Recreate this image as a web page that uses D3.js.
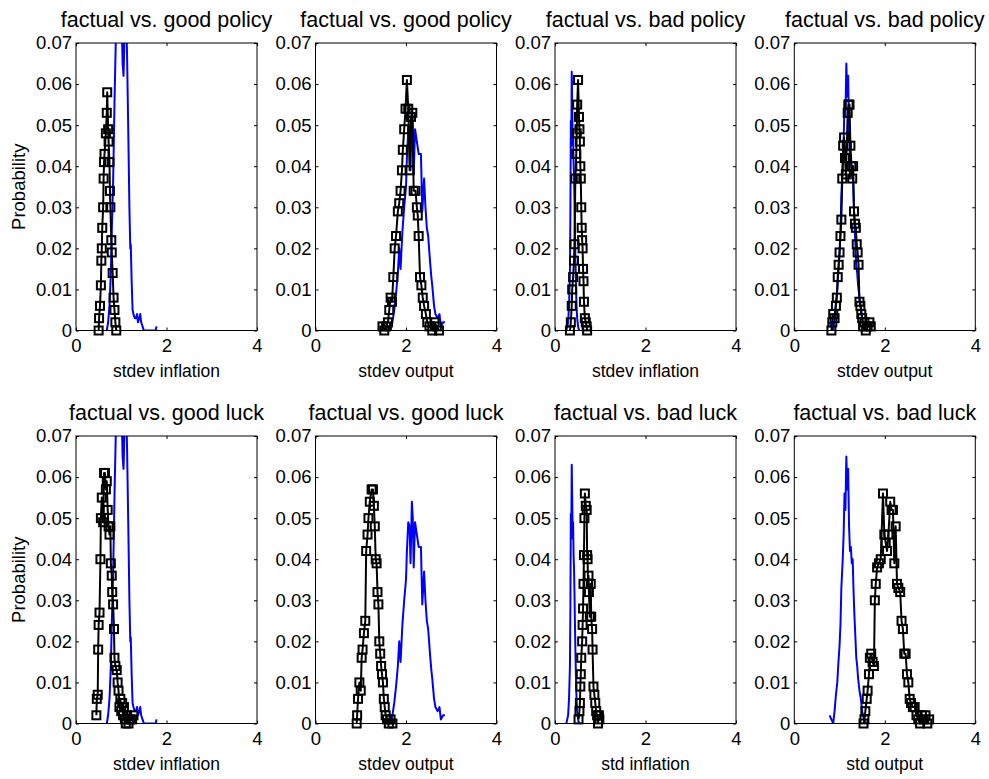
<!DOCTYPE html>
<html><head><meta charset="utf-8">
<script src="https://cdn.jsdelivr.net/npm/d3@7"></script>
<style>
html,body{margin:0;padding:0;background:#fff;}
svg{display:block;font-family:"Liberation Sans",Arial,Helvetica,sans-serif;}
</style></head><body>
<svg id="chart" width="989" height="779"></svg>
<script>
// ---------- tick values ----------
const xTicks = [0, 2, 4];
const yTicks = [0, 0.01, 0.02, 0.03, 0.04, 0.05, 0.06, 0.07];

// ---------- panel texts ----------
const panelTitles = ["factual vs. good policy", "factual vs. good policy", "factual vs. bad policy", "factual vs. bad policy",
                     "factual vs. good luck", "factual vs. good luck", "factual vs. bad luck", "factual vs. bad luck"];
const panelXLabels = ["stdev inflation", "stdev output", "stdev inflation", "stdev output",
                      "stdev inflation", "stdev output", "std inflation", "std output"];
const yLabel = "Probability";

// ---------- factual distributions (blue) [x, probability] ----------
const factualInflGood = [[0.68,0.000],[0.71,0.002],[0.74,0.006],[0.77,0.014],[0.79,0.024],[0.82,0.036],[0.85,0.055],[0.88,0.071],[0.91,0.082],[0.95,0.086],[0.99,0.080],[1.02,0.070],[1.03,0.065],[1.05,0.062],[1.06,0.066],[1.08,0.078],[1.11,0.077],[1.13,0.066],[1.16,0.045],[1.18,0.030],[1.20,0.020],[1.21,0.021],[1.23,0.012],[1.25,0.005],[1.27,0.004],[1.30,0.003],[1.33,0.003],[1.35,0.004],[1.37,0.002],[1.40,0.003],[1.42,0.004],[1.44,0.002],[1.47,0.001],[1.50,0.000],[1.56,0.000],[1.63,0.000],[1.70,0.000],[1.76,0.000],[1.78,0.001]];
const factualOutGood = [[1.66,0.000],[1.70,0.002],[1.74,0.005],[1.78,0.009],[1.82,0.014],[1.85,0.020],[1.88,0.015],[1.92,0.024],[1.96,0.030],[2.00,0.035],[2.02,0.042],[2.05,0.049],[2.08,0.048],[2.10,0.039],[2.13,0.054],[2.15,0.050],[2.17,0.038],[2.20,0.049],[2.24,0.046],[2.28,0.043],[2.33,0.043],[2.36,0.029],[2.40,0.037],[2.43,0.030],[2.46,0.025],[2.49,0.023],[2.53,0.017],[2.56,0.013],[2.58,0.011],[2.62,0.006],[2.65,0.004],[2.70,0.003],[2.74,0.004],[2.77,0.001],[2.82,0.002],[2.86,0.002]];
const factualInflBad = [[0.25,0.000],[0.27,0.001],[0.29,0.002],[0.31,0.006],[0.33,0.014],[0.34,0.028],[0.35,0.051],[0.36,0.045],[0.37,0.063],[0.38,0.055],[0.39,0.047],[0.40,0.049],[0.41,0.041],[0.42,0.038],[0.43,0.032],[0.44,0.025],[0.45,0.018],[0.46,0.013],[0.47,0.008],[0.48,0.005],[0.49,0.003],[0.51,0.001],[0.53,0.000]];
const factualOutBad = [[0.78,0.002],[0.82,0.001],[0.86,0.000],[0.89,0.003],[0.92,0.007],[0.95,0.010],[0.97,0.014],[1.00,0.019],[1.02,0.024],[1.04,0.033],[1.07,0.040],[1.09,0.046],[1.11,0.056],[1.13,0.052],[1.15,0.065],[1.17,0.057],[1.19,0.062],[1.21,0.048],[1.23,0.042],[1.25,0.043],[1.27,0.039],[1.29,0.040],[1.31,0.032],[1.33,0.026],[1.35,0.021],[1.37,0.016],[1.39,0.014],[1.41,0.011],[1.44,0.008],[1.47,0.006],[1.50,0.003],[1.54,0.001],[1.58,0.000],[1.62,0.000]];

// ---------- counterfactual distributions (black, squares) ----------
const cfGoodPolicyInfl = [[0.50,0.000],[0.51,0.003],[0.53,0.006],[0.55,0.011],[0.56,0.017],[0.57,0.020],[0.58,0.025],[0.60,0.030],[0.61,0.037],[0.62,0.041],[0.63,0.043],[0.66,0.048],[0.68,0.053],[0.69,0.058],[0.71,0.049],[0.72,0.046],[0.74,0.041],[0.75,0.034],[0.76,0.030],[0.78,0.022],[0.79,0.019],[0.81,0.014],[0.83,0.008],[0.85,0.005],[0.87,0.002],[0.89,0.000]];
const cfGoodPolicyOut = [[1.48,0.001],[1.52,0.000],[1.56,0.001],[1.60,0.002],[1.63,0.005],[1.66,0.008],[1.69,0.007],[1.72,0.013],[1.75,0.020],[1.78,0.023],[1.82,0.029],[1.85,0.031],[1.88,0.034],[1.91,0.039],[1.93,0.044],[1.96,0.049],[1.99,0.054],[2.02,0.061],[2.05,0.054],[2.08,0.039],[2.11,0.052],[2.14,0.053],[2.17,0.034],[2.21,0.034],[2.24,0.030],[2.26,0.028],[2.28,0.023],[2.31,0.013],[2.34,0.011],[2.37,0.008],[2.40,0.006],[2.44,0.004],[2.47,0.002],[2.52,0.001],[2.58,0.000],[2.63,0.002],[2.68,0.001],[2.73,0.000]];
const cfBadPolicyInfl = [[0.33,0.000],[0.35,0.002],[0.37,0.006],[0.38,0.010],[0.40,0.013],[0.42,0.017],[0.43,0.021],[0.45,0.037],[0.47,0.043],[0.48,0.048],[0.49,0.055],[0.51,0.061],[0.53,0.052],[0.54,0.049],[0.55,0.046],[0.56,0.040],[0.57,0.037],[0.58,0.030],[0.59,0.025],[0.60,0.022],[0.61,0.020],[0.62,0.015],[0.63,0.012],[0.64,0.007],[0.66,0.003],[0.68,0.002],[0.70,0.001],[0.71,0.000]];
const cfBadPolicyOut = [[0.82,0.000],[0.84,0.002],[0.86,0.004],[0.89,0.003],[0.92,0.006],[0.94,0.008],[0.96,0.013],[0.98,0.016],[1.00,0.019],[1.02,0.023],[1.04,0.027],[1.06,0.037],[1.08,0.045],[1.10,0.047],[1.12,0.042],[1.14,0.038],[1.16,0.045],[1.18,0.053],[1.20,0.055],[1.22,0.055],[1.24,0.045],[1.26,0.040],[1.28,0.037],[1.30,0.040],[1.32,0.029],[1.34,0.026],[1.36,0.025],[1.38,0.021],[1.40,0.019],[1.42,0.016],[1.44,0.007],[1.46,0.006],[1.48,0.004],[1.50,0.003],[1.52,0.001],[1.55,0.002],[1.58,0.000],[1.62,0.001],[1.66,0.002],[1.69,0.001]];
const cfGoodLuckInfl = [[0.45,0.002],[0.46,0.006],[0.48,0.007],[0.49,0.018],[0.50,0.024],[0.52,0.027],[0.54,0.040],[0.55,0.050],[0.57,0.055],[0.60,0.049],[0.62,0.061],[0.64,0.061],[0.66,0.057],[0.68,0.059],[0.70,0.052],[0.72,0.048],[0.74,0.046],[0.76,0.048],[0.77,0.039],[0.79,0.036],[0.80,0.032],[0.82,0.029],[0.84,0.023],[0.85,0.016],[0.87,0.014],[0.90,0.013],[0.92,0.010],[0.94,0.008],[0.96,0.004],[0.98,0.006],[1.00,0.003],[1.02,0.005],[1.04,0.002],[1.06,0.004],[1.08,0.001],[1.10,0.000],[1.13,0.002],[1.16,0.000],[1.20,0.001],[1.24,0.001],[1.27,0.002]];
const cfGoodLuckOut = [[0.91,0.000],[0.92,0.002],[0.94,0.006],[0.97,0.010],[1.00,0.008],[1.02,0.016],[1.04,0.018],[1.07,0.022],[1.10,0.025],[1.12,0.042],[1.15,0.046],[1.17,0.050],[1.20,0.054],[1.24,0.057],[1.27,0.057],[1.29,0.053],[1.31,0.048],[1.33,0.040],[1.35,0.039],[1.37,0.032],[1.39,0.029],[1.41,0.020],[1.43,0.017],[1.45,0.014],[1.47,0.012],[1.49,0.010],[1.51,0.006],[1.53,0.004],[1.55,0.002],[1.58,0.001],[1.62,0.000],[1.66,0.001],[1.70,0.000]];
const cfBadLuckInfl = [[0.52,0.001],[0.54,0.003],[0.55,0.005],[0.56,0.009],[0.57,0.012],[0.58,0.016],[0.60,0.020],[0.61,0.024],[0.62,0.028],[0.63,0.034],[0.64,0.041],[0.65,0.050],[0.66,0.056],[0.68,0.053],[0.70,0.052],[0.71,0.041],[0.72,0.040],[0.73,0.034],[0.74,0.036],[0.75,0.032],[0.77,0.026],[0.79,0.034],[0.80,0.026],[0.82,0.023],[0.83,0.018],[0.85,0.009],[0.87,0.007],[0.89,0.005],[0.91,0.003],[0.93,0.002],[0.95,0.000],[0.97,0.002],[0.98,0.001]];
const cfBadLuckOut = [[1.53,0.000],[1.55,0.001],[1.57,0.003],[1.60,0.006],[1.62,0.008],[1.65,0.012],[1.67,0.016],[1.70,0.017],[1.73,0.015],[1.76,0.014],[1.78,0.030],[1.80,0.034],[1.83,0.038],[1.87,0.039],[1.91,0.040],[1.96,0.056],[1.99,0.046],[2.02,0.044],[2.05,0.042],[2.08,0.046],[2.12,0.054],[2.15,0.052],[2.18,0.052],[2.21,0.039],[2.24,0.048],[2.27,0.034],[2.30,0.033],[2.34,0.032],[2.37,0.025],[2.40,0.023],[2.43,0.017],[2.46,0.017],[2.49,0.012],[2.52,0.010],[2.55,0.006],[2.58,0.005],[2.62,0.004],[2.66,0.004],[2.70,0.002],[2.74,0.001],[2.78,0.000],[2.82,0.002],[2.86,0.001],[2.90,0.002],[2.94,0.000],[2.98,0.001]];

const factualSeries = [factualInflGood, factualOutGood, factualInflBad, factualOutBad,
                       factualInflGood, factualOutGood, factualInflBad, factualOutBad];
const counterSeries = [cfGoodPolicyInfl, cfGoodPolicyOut, cfBadPolicyInfl, cfBadPolicyOut,
                       cfGoodLuckInfl, cfGoodLuckOut, cfBadLuckInfl, cfBadLuckOut];

// ---------- layout ----------
const svg = d3.select("#chart");
const colLeft = [76, 315.5, 555, 794.3];
const rowTop = [43, 436];
const W = 181, H = 287.5;

const x = d3.scaleLinear().domain([0, 4]).range([0, W]);
const y = d3.scaleLinear().domain([0, 0.07]).range([H, 0]);
const yFmt = d => d === 0 ? "0" : d3.format(".2f")(d);

const line = d3.line().x(d => x(d[0])).y(d => y(d[1]));

for (let i = 0; i < 8; i++) {
  const r = Math.floor(i / 4), c = i % 4;
  const g = svg.append("g").attr("transform", `translate(${colLeft[c]},${rowTop[r]})`);

  const clipId = "clip" + i;
  g.append("clipPath").attr("id", clipId).append("rect")
    .attr("x", 0).attr("y", 0).attr("width", W).attr("height", H);

  // axes
  const ax = g.append("g").attr("class", "axes");
  ax.append("g").attr("transform", `translate(0,${H})`)
    .call(d3.axisBottom(x).tickValues(xTicks).tickFormat(d3.format("d")).tickSizeInner(-3).tickSizeOuter(0).tickPadding(8));
  ax.append("g")
    .call(d3.axisLeft(y).tickValues(yTicks).tickFormat(yFmt).tickSizeInner(-3).tickSizeOuter(0).tickPadding(4));
  ax.append("g")
    .call(d3.axisTop(x).tickValues(xTicks).tickFormat("").tickSizeInner(-3).tickSizeOuter(0));
  ax.append("g").attr("transform", `translate(${W},0)`)
    .call(d3.axisRight(y).tickValues(yTicks).tickFormat("").tickSizeInner(-3).tickSizeOuter(0));
  ax.selectAll("text").attr("font-size", "18.5px").attr("font-family", '"Liberation Sans",Arial,sans-serif').attr("fill", "#000");
  ax.selectAll("line").attr("stroke", "#000");
  ax.selectAll(".domain").attr("stroke", "none");

  // data
  const plot = g.append("g");
  plot.append("path").datum(factualSeries[i])
    .attr("d", line).attr("fill", "none").attr("stroke", "#0000ff")
    .attr("stroke-width", 2).attr("stroke-linejoin", "round").attr("clip-path", `url(#${clipId})`);
  plot.append("path").datum(counterSeries[i])
    .attr("d", line).attr("fill", "none").attr("stroke", "#000")
    .attr("stroke-width", 2).attr("stroke-linejoin", "round").attr("clip-path", `url(#${clipId})`);
  const ms = 8;
  plot.selectAll("rect.mk").data(counterSeries[i]).enter().append("rect")
    .attr("class", "mk")
    .attr("x", d => x(d[0]) - ms / 2).attr("y", d => y(d[1]) - ms / 2)
    .attr("width", ms).attr("height", ms)
    .attr("fill", "none").attr("stroke", "#000").attr("stroke-width", 2);

  // box
  g.append("rect").attr("x", 0).attr("y", 0).attr("width", W).attr("height", H)
    .attr("fill", "none").attr("stroke", "#000").attr("stroke-width", 1);

  // title
  g.append("text").attr("x", W / 2).attr("y", -16).attr("text-anchor", "middle")
    .attr("font-size", "21.5px").attr("fill", "#000").text(panelTitles[i]);
  // x label
  g.append("text").attr("x", W / 2).attr("y", H + 46).attr("text-anchor", "middle")
    .attr("font-size", "17.5px").attr("fill", "#000").text(panelXLabels[i]);
  // y label (first column only)
  if (c === 0) {
    g.append("text").attr("transform", `translate(${25 - colLeft[0]},${H / 2}) rotate(-90)`)
      .attr("text-anchor", "middle").attr("font-size", "18.5px").attr("fill", "#000").text(yLabel);
  }
}
</script>
</body></html>
